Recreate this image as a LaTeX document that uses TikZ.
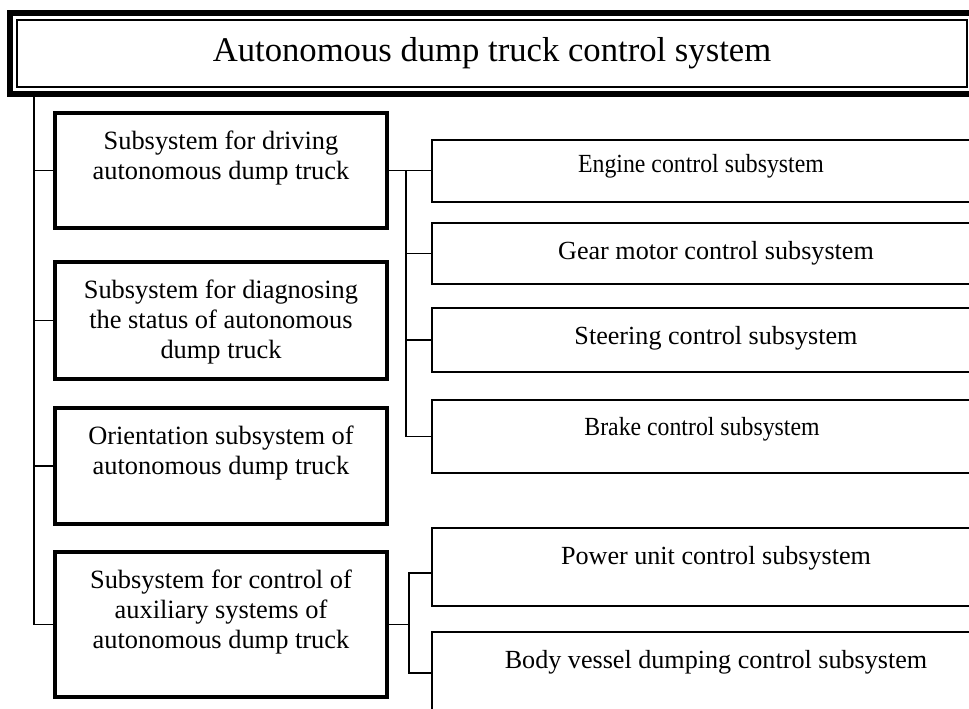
\documentclass[tikz,border=0pt]{standalone}
\usepackage{fontspec}
\setmainfont{Liberation Serif}
\newfontfamily\narrowserif[FakeStretch=0.91]{Liberation Serif}
\usetikzlibrary{calc}

\tikzset{every picture/.style={line width=0.75pt}}
\tikzset{
  lbox/.style={draw, rectangle, line width=2.5pt, inner sep=0pt, minimum width=249pt},
  rbox/.style={draw, rectangle, line width=1.5pt, inner sep=0pt, minimum width=426pt},
  ltext/.style={anchor=north, inner sep=0pt, align=center, font=\fontsize{19.8}{22.5}\selectfont},
  rtext/.style={anchor=north, inner sep=0pt, align=center, font=\fontsize{19.6}{22.5}\selectfont},
  narrowtext/.style={rtext, font=\narrowserif\fontsize{19.6}{22.5}\selectfont},
  link/.style={line width=1pt},
}

\begin{document}
\begin{tikzpicture}[x=0.75pt,y=0.75pt,yscale=-1,xscale=1]
\useasboundingbox (0,0) rectangle (969,708);
\clip (0,0) rectangle (969,708);

%Shape: Title frame
\node[draw, rectangle, line width=4.5pt, inner sep=0pt, minimum width=742.5pt, minimum height=60.75pt] (frame) at (505,53.5) {};
\node[draw, rectangle, line width=1.5pt, inner sep=0pt, minimum width=712.5pt, minimum height=50.25pt,
      font=\fontsize{26}{31}\selectfont] (title) at (492,53.5) {Autonomous dump truck control system};

%Shape: Left column
\node[lbox, minimum height=86.25pt] (drv) at (221,170.5) {};
\node[lbox, minimum height=87.75pt] (diag) at (221,320.5) {};
\node[lbox, minimum height=87pt] (ornt) at (221,466) {};
\node[lbox, minimum height=108.75pt] (aux) at (221,624.5) {};

% Text Node
\node[ltext] (drvtext) at ($(drv.north)+(0,19.5)$) {Subsystem for driving\\autonomous dump truck};
% Text Node
\node[ltext] (diagtext) at ($(diag.north)+(0,19.5)$) {Subsystem for diagnosing\\the status of autonomous\\dump truck};
% Text Node
\node[ltext] (orntext) at ($(ornt.north)+(0,19.5)$) {Orientation subsystem of\\autonomous dump truck};
% Text Node
\node[ltext] (auxtext) at ($(aux.north)+(0,19.5)$) {Subsystem for control of\\auxiliary systems of\\autonomous dump truck};

%Shape: Right column
\node[rbox, minimum height=46.5pt] (eng) at (716,170.5) {};
\node[rbox, minimum height=45.75pt] (gear) at (716,253.5) {};
\node[rbox, minimum height=48pt] (steer) at (716,340) {};
\node[rbox, minimum height=54.75pt] (brake) at (716,436.5) {};
\node[rbox, minimum height=58.5pt] (power) at (716,567) {};
\node[rbox, minimum height=61.5pt] (body) at (716,673) {};

% Text Node
\node[narrowtext] (engtext) at ($(eng.north)+(-15,15)$) {Engine control subsystem};
% Text Node
\node[rtext] (geartext) at ($(gear.north)+(0,18.5)$) {Gear motor control subsystem};
% Text Node
\node[rtext] (steertext) at ($(steer.north)+(0,18.5)$) {Steering control subsystem};
% Text Node
\node[narrowtext] (braketext) at ($(brake.north)+(-14,17.5)$) {Brake control subsystem};
% Text Node
\node[rtext] (powertext) at ($(power.north)+(0,18.5)$) {Power unit control subsystem};
% Text Node
\node[rtext] (bodytext) at ($(body.north)+(0,18.5)$) {Body vessel dumping control subsystem};

%Straight Lines: main rail
\coordinate (rail) at (34,0);
\draw[link] (frame.south -| rail) |- (aux.west);
\draw[link] (drv.west -| rail) -- (drv.west);
\draw[link] (diag.west -| rail) -- (diag.west);
\draw[link] (ornt.west -| rail) -- (ornt.west);

%Straight Lines: driving branch
\coordinate (bus) at (406,0);
\draw[link] (drv.east) -- (eng.west);
\draw[link] (drv.east -| bus) |- (brake.west);
\draw[link] (gear.west -| bus) -- (gear.west);
\draw[link] (steer.west -| bus) -- (steer.west);

%Straight Lines: auxiliary branch
\coordinate (bus2) at (409,0);
\draw[link] (aux.east) -- (aux.east -| bus2);
\draw[link] ($(power.west)+(0,6)$) -| (body.west -| bus2) -- (body.west);

\end{tikzpicture}
\end{document}
